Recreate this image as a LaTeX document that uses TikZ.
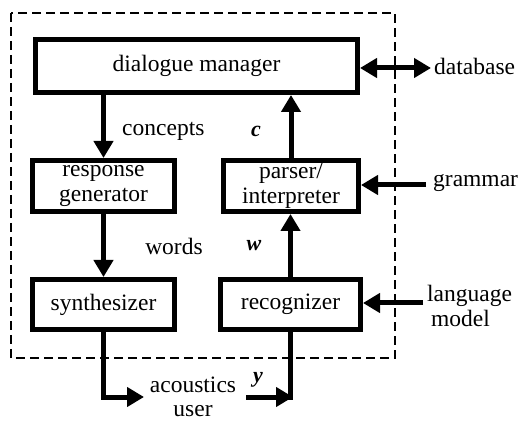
\documentclass[tikz,border=0pt]{standalone}
\usepackage{fontspec}
\setmainfont{Liberation Serif}
\usetikzlibrary{arrows.meta,calc}
\begin{document}
\begin{tikzpicture}[x=1pt,y=-1pt,
  every node/.style={font=\fontsize{23.5}{25}\selectfont, inner sep=0pt},
  block/.style={draw, line width=5pt, align=center, rectangle},
  tip/.tip={Triangle[length=17pt,width=19pt]},
  flow/.style={line width=5pt, -tip},
  link/.style={line width=5pt},
  both/.style={line width=5pt, tip-tip},
  frame/.style={line width=1.8pt, dash pattern=on 9pt off 5pt},
  sym/.style={font=\fontsize{22}{24}\selectfont\bfseries\itshape}]
  \useasboundingbox (0,0) rectangle (520,422);

  % system boundary
  \draw[frame] (11,13) rectangle (395,358);

  % processing blocks
  \node[block, minimum width=322pt, minimum height=53pt] (dm) at (196.5,66) {dialogue manager};
  \node[block, minimum width=142pt, minimum height=51pt] (rg) at (103.5,186) {response\\generator};
  \node[block, minimum width=135pt, minimum height=51pt] (pi) at (291,186) {parser/\\interpreter};
  \node[block, minimum width=142pt, minimum height=50pt] (sy) at (103.5,304.5) {synthesizer};
  \node[block, minimum width=140pt, minimum height=50pt] (rc) at (290.5,304.5) {recognizer};

  % internal flow
  \draw[flow] (dm.south -| rg.north) -- (rg.north);
  \draw[flow] (rg.south) -- (sy.north);
  \draw[flow] (rc.north) -- (rc.north |- pi.south);
  \draw[flow] (pi.north) -- (pi.north |- dm.south);

  % flow labels
  \node[anchor=west] (concepts) at (122,131) {concepts};
  \node[sym] (c) at (256,131) {c};
  \node (words) at (174,246) {words};
  \node[sym] (w) at (254,246) {w};

  % external resources
  \coordinate (dbend) at (431,68);
  \node[anchor=west] (db) at (434,66) {database};
  \draw[both] (dm.east |- dbend) -- (dbend);

  \coordinate (gstart) at (426,185);
  \node[anchor=west] (gram) at (433,183) {grammar};
  \draw[flow] (gstart) -- (pi.east |- gstart);

  \coordinate (lmstart) at (423,303);
  \node[anchor=west, align=left] (lm) at (427,306) {language\\\hspace*{4pt}model};
  \draw[flow] (lmstart) -- (rc.east |- lmstart);

  % acoustic path through the user
  \coordinate (outcorner) at (103.5,397);
  \coordinate (outend) at (144,397);
  \draw[link] (sy.south) -- (outcorner);
  \draw[flow] ($(outcorner)+(-2.5,0)$) -- (outend);

  \node[anchor=base] (ac) at (193,392) {acoustics};
  \node[anchor=base, text depth=0pt] (user) at (193,416) {user};

  \coordinate (instart) at (246,397);
  \coordinate (incorner) at (290.5,397);
  \draw[flow] (instart) -- ($(incorner)+(2.5,0)$);
  \draw[link] ($(incorner)+(0,2.5)$) -- (incorner |- rc.south);
  \node[sym] (y) at (258,380) {y};
\end{tikzpicture}
\end{document}
